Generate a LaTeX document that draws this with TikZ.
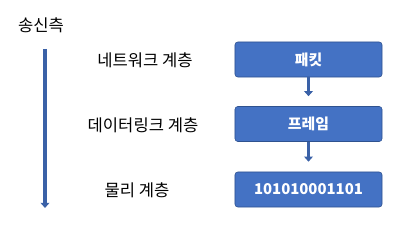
\documentclass[tikz,border=0pt]{standalone}
\usepackage{fontspec}
\setmainfont{Noto Sans CJK KR}
\usetikzlibrary{arrows.meta,positioning}
\definecolor{boxblue}{HTML}{4472C4}
\definecolor{boxedge}{HTML}{2F528F}

\begin{document}
\begin{tikzpicture}[x=0.025cm, y=-0.025cm,
  layerbox/.style={draw=boxedge, fill=boxblue, rounded corners=2pt,
    minimum width=3.675cm, minimum height=0.875cm, inner sep=0pt,
    text=white, font=\fontsize{10.6}{13}\selectfont\bfseries},
  layertext/.style={font=\fontsize{11.8}{14}\selectfont},
  flow/.style={draw=boxblue!85!black, line width=0.075cm,
    -{Triangle[width=0.22cm, length=0.13cm]}}
]
  \useasboundingbox (0,0) rectangle (410,242);

  % Sender side
  \node[layertext] (sender) at (41,25) {송신측};
  \coordinate (downtop) at (45,49);
  \coordinate (downend) at (45,208);
  \draw[flow, line width=0.09cm] (downtop) -- (downend);

  % Layer names
  \node[layertext] (netname) at (145,60) {네트워크 계층};
  \node[layertext] (linkname) at (143,125) {데이터링크 계층};
  \node[layertext] (physname) at (137,190) {물리 계층};

  % Data units
  \node[layerbox] (packet) at (308.5,59.5) {패킷};
  \node[layerbox] (frame) at (308.5,124) {프레임};
  \node[layerbox] (bits) at (308.5,189.5) {101010001101};

  % Encapsulation arrows
  \draw[flow, shorten >=0.25cm] (packet) -- (frame);
  \draw[flow, shorten >=0.25cm] (frame) -- (bits);
\end{tikzpicture}
\end{document}
